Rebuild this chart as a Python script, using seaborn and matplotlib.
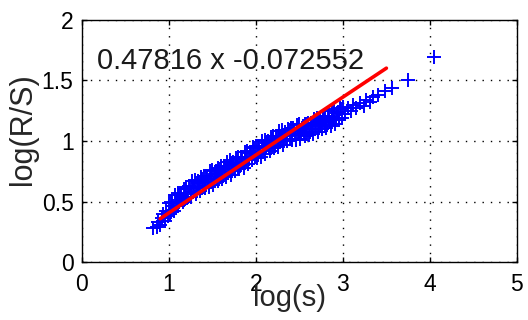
import numpy as np
import matplotlib
matplotlib.use("Agg")
import matplotlib.pyplot as plt
import seaborn as sns

# log(s) / log(R/S) points (first pass)
log_s_a = [0.82, 0.86, 0.88, 0.90, 0.92, 0.93, 0.95, 0.97, 0.99,
           1.00, 1.02, 1.04, 1.06, 1.08, 1.10, 1.12, 1.14, 1.16, 1.18,
           1.20, 1.22, 1.24, 1.26, 1.28, 1.30, 1.32, 1.34, 1.36, 1.38,
           1.40, 1.42, 1.44, 1.46, 1.48, 1.50, 1.52, 1.54, 1.56, 1.58,
           1.60, 1.62, 1.64, 1.66, 1.68, 1.70, 1.72, 1.74, 1.76, 1.78,
           1.80, 1.82, 1.84, 1.86, 1.88, 1.90, 1.92, 1.94, 1.96, 1.98,
           2.00, 2.02, 2.04, 2.06, 2.08, 2.10, 2.12, 2.14, 2.16, 2.18,
           2.20, 2.22, 2.24, 2.26, 2.28, 2.30, 2.32, 2.34, 2.36, 2.38,
           2.40, 2.42, 2.44, 2.46, 2.48, 2.50, 2.52, 2.54, 2.56, 2.58,
           2.60, 2.62, 2.64, 2.66, 2.68, 2.70, 2.72, 2.74, 2.76, 2.78,
           2.80, 2.82, 2.84, 2.86, 2.88, 2.90, 2.92, 2.94, 2.96, 2.98,
           3.00, 3.03, 3.06, 3.09, 3.12, 3.15, 3.20, 3.24, 3.27, 3.31,
           3.35, 3.40, 3.48, 3.56, 3.75, 4.05]
log_rs_a = [0.28, 0.29, 0.33, 0.31, 0.36, 0.40, 0.34, 0.42, 0.38,
            0.49, 0.41, 0.49, 0.42, 0.50, 0.57, 0.50, 0.56, 0.50, 0.60,
            0.62, 0.54, 0.61, 0.54, 0.61, 0.68, 0.61, 0.67, 0.59, 0.69,
            0.71, 0.63, 0.70, 0.62, 0.69, 0.76, 0.69, 0.75, 0.67, 0.77,
            0.79, 0.71, 0.78, 0.70, 0.77, 0.84, 0.77, 0.83, 0.75, 0.85,
            0.87, 0.79, 0.86, 0.78, 0.85, 0.92, 0.85, 0.91, 0.84, 0.94,
            0.96, 0.88, 0.95, 0.87, 0.94, 1.01, 0.94, 1.00, 0.92, 1.02,
            1.04, 0.96, 1.03, 0.95, 1.02, 1.09, 1.02, 1.07, 1.00, 1.09,
            1.11, 1.02, 1.09, 1.01, 1.08, 1.14, 1.06, 1.12, 1.04, 1.14,
            1.15, 1.07, 1.13, 1.06, 1.12, 1.19, 1.12, 1.17, 1.10, 1.19,
            1.21, 1.13, 1.20, 1.12, 1.19, 1.26, 1.19, 1.24, 1.17, 1.26,
            1.28, 1.22, 1.27, 1.25, 1.30, 1.27, 1.31, 1.29, 1.34, 1.32,
            1.36, 1.38, 1.41, 1.44, 1.50, 1.69]

# second pass, filling the dense band in between
log_s_b = [1.01, 1.03, 1.05, 1.07, 1.09, 1.11, 1.13, 1.15, 1.17, 1.19,
           1.21, 1.23, 1.25, 1.27, 1.29, 1.31, 1.33, 1.35, 1.37, 1.39,
           1.41, 1.43, 1.45, 1.47, 1.49, 1.51, 1.53, 1.55, 1.57, 1.59,
           1.61, 1.63, 1.65, 1.67, 1.69, 1.71, 1.73, 1.75, 1.77, 1.79,
           1.81, 1.83, 1.85, 1.87, 1.89, 1.91, 1.93, 1.95, 1.97, 1.99,
           2.01, 2.03, 2.05, 2.07, 2.09, 2.11, 2.13, 2.15, 2.17, 2.19,
           2.21, 2.23, 2.25, 2.27, 2.29, 2.31, 2.33, 2.35, 2.37, 2.39,
           2.41, 2.43, 2.45, 2.47, 2.49, 2.51, 2.53, 2.55, 2.57, 2.59,
           2.61, 2.63, 2.65, 2.67, 2.69, 2.71, 2.73, 2.75, 2.77, 2.79,
           2.81, 2.83, 2.85, 2.87, 2.89, 2.91, 2.93, 2.95, 2.97, 2.99]
log_rs_b = [0.40, 0.50, 0.46, 0.55, 0.49, 0.46, 0.55, 0.51, 0.60, 0.52,
            0.53, 0.63, 0.58, 0.67, 0.61, 0.56, 0.65, 0.61, 0.70, 0.62,
            0.61, 0.71, 0.66, 0.75, 0.69, 0.64, 0.73, 0.69, 0.78, 0.70,
            0.69, 0.79, 0.74, 0.83, 0.77, 0.72, 0.81, 0.77, 0.86, 0.78,
            0.77, 0.87, 0.82, 0.91, 0.85, 0.81, 0.90, 0.86, 0.95, 0.87,
            0.86, 0.96, 0.91, 1.00, 0.94, 0.89, 0.98, 0.94, 1.03, 0.95,
            0.94, 1.04, 0.99, 1.08, 1.02, 0.97, 1.06, 1.02, 1.10, 1.02,
            1.01, 1.11, 1.05, 1.13, 1.07, 1.02, 1.11, 1.06, 1.14, 1.06,
            1.05, 1.15, 1.10, 1.18, 1.12, 1.07, 1.16, 1.12, 1.20, 1.12,
            1.11, 1.21, 1.16, 1.25, 1.19, 1.14, 1.23, 1.19, 1.27, 1.19]

# fitted line end points
fit_x = [0.90, 3.50]
fit_y = [0.358, 1.601]
fit_label = "0.47816 x -0.072552"

x_ticks = [0, 1, 2, 3, 4, 5]
y_ticks = [0, 0.5, 1, 1.5, 2]
y_tick_labels = ["0", "0.5", "1", "1.5", "2"]

sns.set_style("ticks")
plt.rcParams['font.family'] = ['Liberation Sans', 'DejaVu Sans']

fig = plt.figure(figsize=(5.28, 3.2), dpi=100)
ax = fig.add_axes([0.155, 0.181, 0.824, 0.757])

sns.scatterplot(x=log_s_a + log_s_b, y=log_rs_a + log_rs_b, marker='+', s=110,
                color='blue', linewidth=1.4, ax=ax, zorder=3)
sns.lineplot(x=fit_x, y=fit_y, color='red', linewidth=2.6, ax=ax, zorder=4)

ax.text(0.17, 1.59, fit_label, fontsize=21, ha='left', va='baseline', color='#1a1a1a')

ax.set_xlim(0, 5)
ax.set_ylim(0, 2)
ax.set_xticks(x_ticks)
ax.set_yticks(y_ticks)
ax.set_yticklabels(y_tick_labels)
ax.tick_params(direction='in', length=3.6, width=1, top=True, right=True,
               labelsize=16.5, colors='black')
ax.tick_params(axis='x', pad=8)
ax.tick_params(axis='y', pad=6)
ax.grid(True, color='black', linestyle=(0, (1, 5)), linewidth=1.0)
for sp in ax.spines.values():
    sp.set_visible(True)
    sp.set_color('black')
    sp.set_linewidth(1.0)

ax.set_xlabel("log(s)", fontsize=21)
ax.set_ylabel("log(R/S)", fontsize=22)
ax.xaxis.set_label_coords(0.478, -0.09)
ax.yaxis.set_label_coords(-0.10, 0.55)

fig.savefig("out.png", dpi=100, facecolor='white')
